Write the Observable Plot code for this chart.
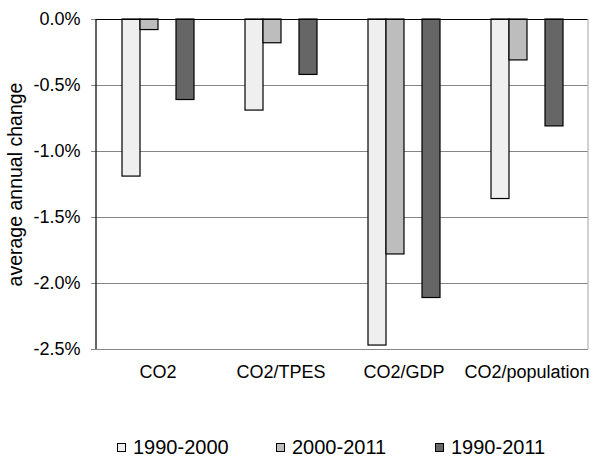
<!DOCTYPE html>
<html><head><meta charset="utf-8">
<script src="https://cdn.jsdelivr.net/npm/d3@7"></script>
<script src="https://cdn.jsdelivr.net/npm/@observablehq/plot@0.6"></script>
<style>
body{margin:0;background:#fff;font-family:"Liberation Sans",Arial,sans-serif;}
#wrap{width:591px;height:457px;position:relative;overflow:hidden;}
#legend{position:absolute;left:117px;top:430px;height:27px;display:flex;align-items:center;padding-top:7px;box-sizing:border-box;line-height:20px;font-size:20px;color:#000;}
.item{width:159px;display:flex;align-items:center;white-space:nowrap;}
.sw{width:7px;height:7px;border:1px solid #000;margin-right:7px;flex:none;}
</style></head><body>
<div id="wrap"><div id="chart"></div><div id="legend"></div></div>
<script>
const categories = ["CO2", "CO2/TPES", "CO2/GDP", "CO2/population"];
const series = ["1990-2000", "2000-2011", "1990-2011"];
const values1990_2000 = [-1.19, -0.69, -2.47, -1.36];
const values2000_2011 = [-0.08, -0.18, -1.78, -0.31];
const values1990_2011 = [-0.61, -0.42, -2.11, -0.81];
const seriesColors = ["#efefef", "#bdbdbd", "#666666"];
const yTicks = [0, -0.5, -1.0, -1.5, -2.0, -2.5];
// slot order inside each category (third slot is an empty gap, as in the original)
const slots = ["1990-2000", "2000-2011", "", "1990-2011"];

const seriesValues = [values1990_2000, values2000_2011, values1990_2011];
const data = [];
categories.forEach((c, i) => series.forEach((s, j) => data.push({cat: c, series: s, value: seriesValues[j][i]})));

const fmt = d => d.toFixed(1) + "%";

const chart = Plot.plot({
  width: 591, height: 430,
  marginLeft: 96, marginRight: 3, marginTop: 19, marginBottom: 81,
  style: {fontFamily: "'Liberation Sans', Arial, sans-serif", fontSize: "18px", color: "#000", background: "#fff", overflow: "visible"},
  fx: {domain: categories, padding: 0, label: null},
  x: {domain: slots, paddingInner: 0, paddingOuter: 1.245, axis: null},
  y: {domain: [-2.5, 0], label: null},
  color: {domain: series, range: seriesColors},
  marks: [
    Plot.ruleY(yTicks.filter(d => d !== 0), {stroke: "#868686", strokeWidth: 1}),
    Plot.barY(data, {fx: "cat", x: "series", y: "value", fill: "series", stroke: "#000", strokeWidth: 1.2}),
    Plot.ruleY([0], {stroke: "#000", strokeWidth: 1.2}),
    Plot.axisY({ticks: yTicks, tickFormat: fmt, tickSize: 5, tickPadding: 11, stroke: "#868686", fontSize: 18,
      label: "average annual change", labelArrow: "none", labelAnchor: "center", labelOffset: 88}),
    Plot.axisFx({anchor: "bottom", tickSize: 0, tickPadding: 16, fontSize: 18, label: null})
  ]
});
document.getElementById("chart").appendChild(chart);

// plot-area frame lines (left axis black, right border light grey), from the library's scales
const fxS = chart.scale("fx"), yS = chart.scale("y");
const frameLeft = fxS.apply(categories[0]);
const frameRight = fxS.apply(categories[categories.length - 1]) + fxS.bandwidth;
const frameTop = yS.apply(0), frameBottom = yS.apply(-2.5);
const svg = d3.select(chart);
svg.append("line").attr("x1", frameRight).attr("x2", frameRight).attr("y1", frameTop).attr("y2", frameBottom).attr("stroke", "#b3b3b3").attr("stroke-width", 1.2);
svg.append("line").attr("x1", frameLeft).attr("x2", frameLeft).attr("y1", frameTop).attr("y2", frameBottom).attr("stroke", "#000").attr("stroke-width", 1.2);
svg.select('[aria-label="y-axis label"]').attr("font-size", 19.5);

const legend = d3.select("#legend");
series.forEach((s, j) => {
  const it = legend.append("div").attr("class", "item");
  it.append("div").attr("class", "sw").style("background", seriesColors[j]);
  it.append("span").text(s);
});
</script>
</body></html>
